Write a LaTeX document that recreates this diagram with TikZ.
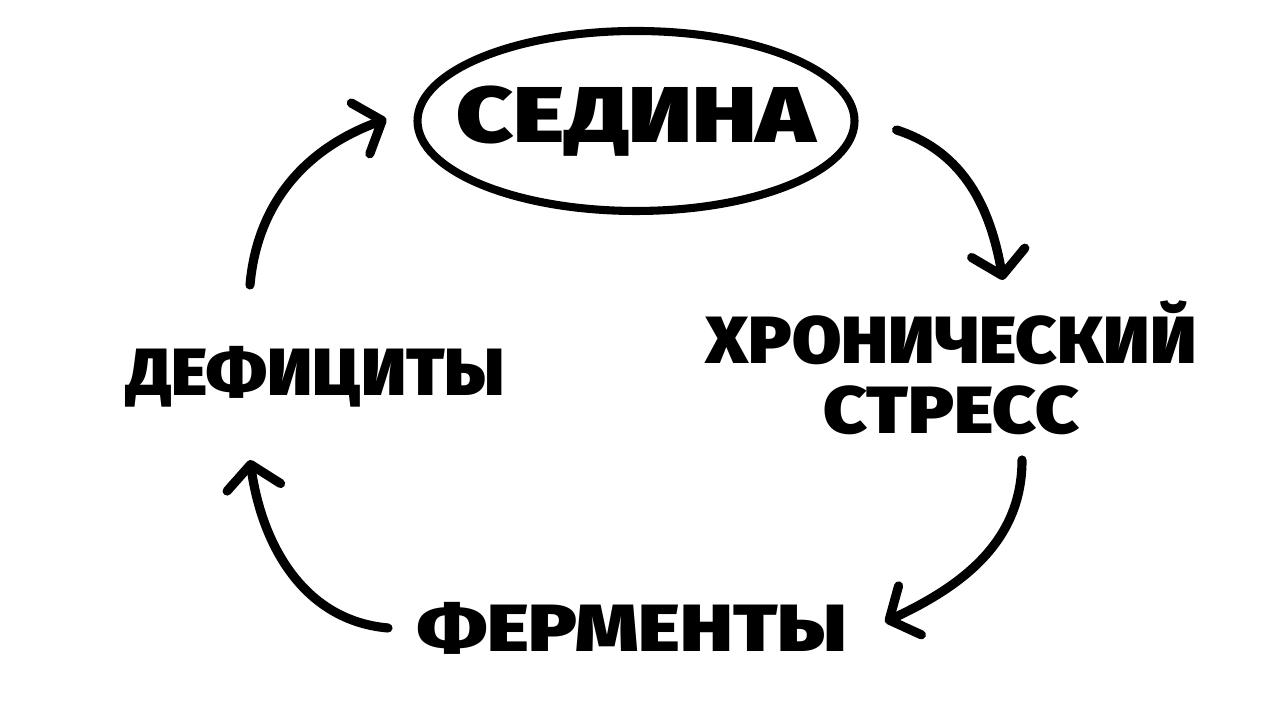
\documentclass[tikz,border=0pt]{standalone}
\usepackage{fontspec}
\setmainfont{Fira Sans Black}
\usetikzlibrary{arrows.meta,shapes.geometric,calc}

\newcommand{\wide}[2]{\scalebox{#1}[1]{#2}}

\tikzset{
  label text/.style={font=\fontsize{19}{20}\selectfont, align=center, inner sep=0pt},
  cycle arrow/.style={line width=2.6pt, line cap=round,
    -{Straight Barb[length=2.3mm,width=5.4mm,line cap=round,line join=round]}}
}

\begin{document}
\begin{tikzpicture}
\useasboundingbox (0,0) rectangle (12.8,7.2);
% nodes
\node[draw, ellipse, line width=2.3pt, inner sep=0pt, minimum width=4.37cm, minimum height=1.8cm,
      font=\fontsize{22.5}{24}\selectfont] (sedina) at (6.36,5.99) {\makebox[0pt]{\wide{1.24}{СЕДИНА}}};
\node[label text] (stress) at (9.51,3.52) {\wide{1.07}{ХРОНИЧЕСКИЙ}\\[0pt]\wide{1.13}{СТРЕСС}};
\node[label text] (ferm) at (6.32,0.92) {\wide{1.2}{ФЕРМЕНТЫ}};
\node[label text] (def) at (3.16,3.43) {\wide{1.04}{ДЕФИЦИТЫ}};
% arrows of the cycle
\draw[cycle arrow] ($(def)+(-0.66,0.92)$) to[out=85,in=200] ($(sedina.west)+(-0.27,0.02)$);
\draw[cycle arrow] ($(sedina.east)+(0.38,-0.09)$) to[out=-18,in=100] ($(stress)+(0.52,0.88)$);
\draw[cycle arrow] ($(stress)+(0.71,-0.92)$) to[out=-90,in=25] ($(ferm)+(2.53,0.06)$);
\draw[cycle arrow] ($(ferm)+(-2.44,0)$) to[out=175,in=-82] ($(def)+(-0.66,-0.83)$);
\end{tikzpicture}
\end{document}
